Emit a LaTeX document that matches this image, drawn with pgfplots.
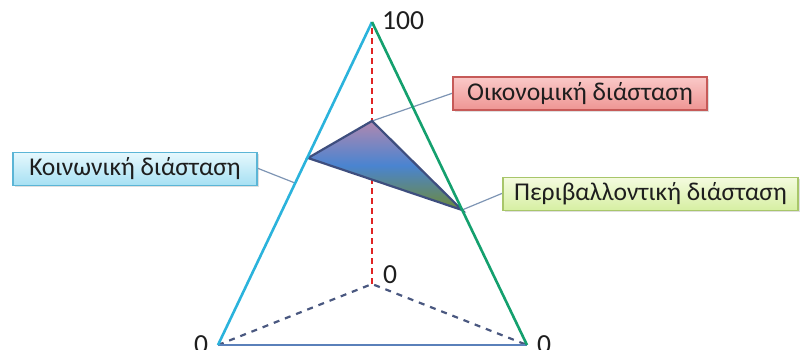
\documentclass[border=0pt]{standalone}
\usepackage{pgfplots}
\pgfplotsset{compat=1.18}
\usepackage{fontspec}
\setmainfont{Carlito}
\usetikzlibrary{shadows}

\definecolor{edgecyan}{HTML}{2BB3DC}
\definecolor{edgegreen}{HTML}{14A06E}
\definecolor{edgebase}{HTML}{5A80BA}
\definecolor{dashnavy}{HTML}{4A5880}
\definecolor{dashred}{HTML}{E02424}
\definecolor{innerline}{HTML}{3E4E7E}
\definecolor{leader}{HTML}{7E95B4}
\definecolor{redbox}{HTML}{C65A58}
\definecolor{redtop}{HTML}{FAC9C8}
\definecolor{redbot}{HTML}{EE9593}
\definecolor{greenbox}{HTML}{A8C66A}
\definecolor{greentop}{HTML}{F4FBDF}
\definecolor{greenbot}{HTML}{D6EFA2}
\definecolor{bluebox}{HTML}{5BB5D6}
\definecolor{bluetop}{HTML}{E6F8FD}
\definecolor{bluebot}{HTML}{A6E0F3}
\definecolor{triTop}{HTML}{B088B0}
\definecolor{triMid}{HTML}{4A84D0}
\definecolor{triBot}{HTML}{6E8A38}
\definecolor{txt}{HTML}{1E1E1E}

\tikzset{box/.style={draw, line width=0.6pt, minimum height=16.5pt, inner sep=0pt,
    text=txt, font=\fontsize{12.8}{13}\selectfont,
    drop shadow={opacity=0.25, shadow xshift=0.8pt, shadow yshift=-0.8pt}},
  num/.style={text=txt, font=\fontsize{13.8}{14}\selectfont}}

\begin{document}
\begin{tikzpicture}
\begin{axis}[
    width=400pt, height=174.5pt, scale only axis,
    xmin=0, xmax=800, ymin=0, ymax=349, y dir=reverse,
    hide axis, clip=false,
]
% leader lines to the labels
\addplot[leader, line width=0.6pt] coordinates {(372,121) (453,93)};
\addplot[leader, line width=0.6pt] coordinates {(257,168) (295,183)};
\addplot[leader, line width=0.6pt] coordinates {(462,210) (503,193)};
% base of the pyramid
\addplot[dashnavy, dashed, line width=1.1pt] coordinates {(218,345) (372,284) (527,345)};
\addplot[edgebase, line width=1.2pt] coordinates {(218,345) (527,345)};
\addplot[dashred, densely dashed, line width=1.3pt] coordinates {(372,284) (372,22)};
% the three dimensions
\addplot[draw=innerline, line width=1.1pt, top color=triTop, bottom color=triBot, middle color=triMid]
    coordinates {(372,121) (308,158) (462,210)} -- cycle;
% sides
\addplot[edgecyan, line width=1.3pt] coordinates {(218,345) (372,22)};
\addplot[edgegreen, line width=1.3pt] coordinates {(527,345) (372,22)};

\node[box, draw=redbox, top color=redtop, bottom color=redbot, minimum width=127pt]
    at (axis cs:580,93.5) {Οικονομική διάσταση};
\node[box, draw=greenbox, top color=greentop, bottom color=greenbot, minimum width=147.5pt]
    at (axis cs:650.5,194) {Περιβαλλοντική διάσταση};
\node[box, draw=bluebox, top color=bluetop, bottom color=bluebot, minimum width=122pt]
    at (axis cs:135,169) {Κοινωνική διάσταση};

\node[num] at (axis cs:403,21) {100};
\node[num] at (axis cs:390,275) {0};
\node[num] at (axis cs:201,345) {0};
\node[num] at (axis cs:544,345) {0};
\end{axis}
\pgfresetboundingbox
\useasboundingbox (current axis.south west) rectangle (current axis.north east);
\end{tikzpicture}
\end{document}
